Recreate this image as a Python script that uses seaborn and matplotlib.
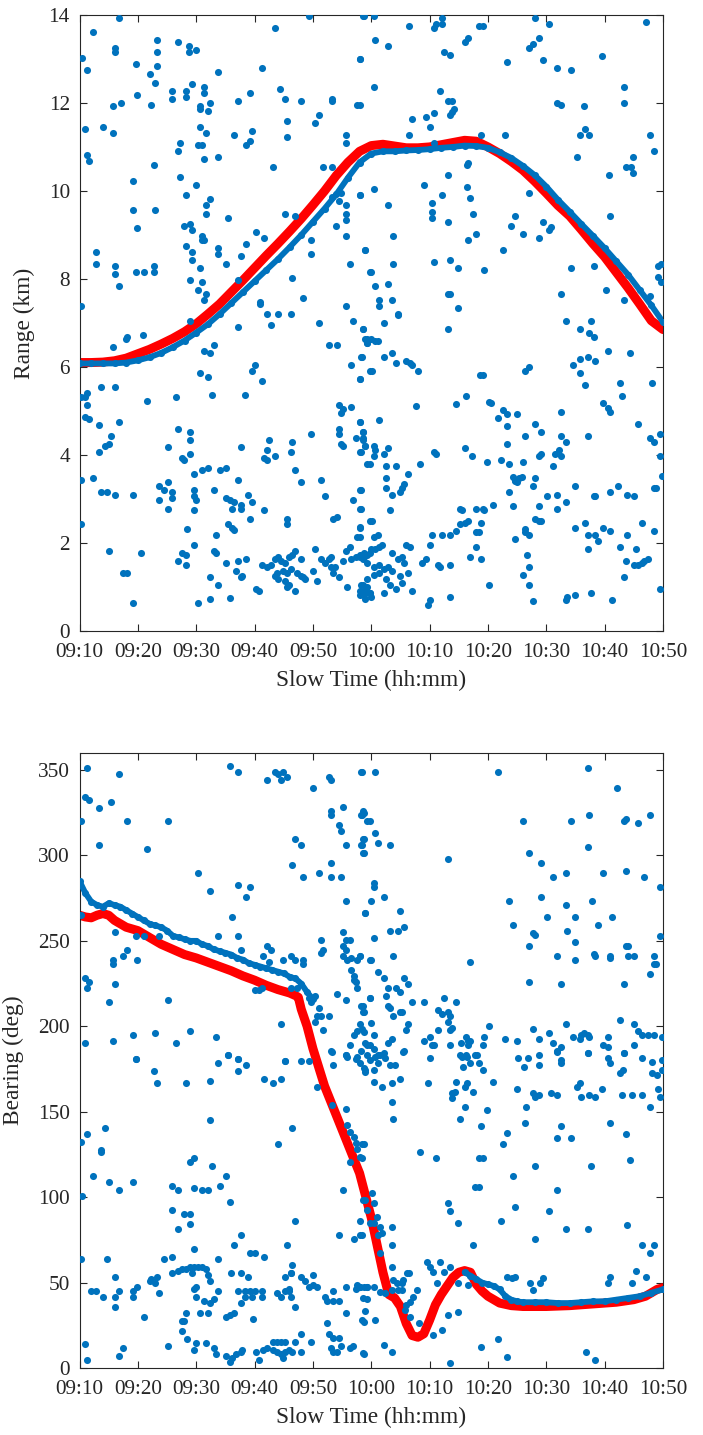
import matplotlib
matplotlib.use("Agg")
import matplotlib.pyplot as plt
import seaborn as sns

BLUE = "#0072BD"
RED = "#FF0000"
INK = "#262626"
SERIF = ["Liberation Serif", "DejaVu Serif"]

# x axis is minutes after 09:10
tick_minutes = list(range(0, 101, 10))
tick_labels = ["09:10", "09:20", "09:30", "09:40", "09:50", "10:00",
               "10:10", "10:20", "10:30", "10:40", "10:50"]

# ---- range panel ----
range_track_t = list(range(0, 101, 2))
range_track = [6.08, 6.08, 6.08, 6.08, 6.1, 6.15, 6.22, 6.32, 6.45, 6.6,
               6.78, 6.97, 7.2, 7.45, 7.7, 7.95, 8.2, 8.45, 8.72, 9.0,
               9.3, 9.6, 9.92, 10.3, 10.65, 10.85, 10.9, 10.9, 10.92, 10.93,
               10.95, 10.98, 11.0, 11.03, 11.02, 10.98, 10.88, 10.75, 10.57, 10.36,
               10.1, 9.8, 9.53, 9.25, 8.98, 8.7, 8.4, 8.1, 7.75, 7.4, 7.02]
range_fit = [6.1, 6.1, 6.11, 6.14, 6.2, 6.3, 6.4, 6.52, 6.65, 6.8,
             6.98, 7.2, 7.43, 7.7, 7.97, 8.25, 8.53, 8.8, 9.08, 9.37,
             9.68, 10.0, 10.35, 10.65, 10.9, 11.03, 11.06, 11.02, 10.98, 10.98,
             11.0, 11.05, 11.1, 11.15, 11.13, 11.0, 10.85, 10.67, 10.47, 10.22,
             9.95, 9.67, 9.43, 9.12, 8.8, 8.5, 8.15, 7.8, 7.43, 7.05, 6.85]
range_clutter = [
    (6.8, 13.92), (2.3, 13.61), (13.3, 13.42), (6.1, 13.24), (6.1, 13.15), (13.3, 13.15),
    (16.8, 13.38), (18.8, 13.3), (18.8, 13.15), (20.0, 13.2), (0.5, 13.01), (1.2, 12.74),
    (9.6, 12.88), (13.3, 12.83), (12.0, 12.65), (13.0, 12.46), (23.8, 12.7), (31.3, 12.79),
    (33.5, 13.7), (39.3, 13.98), (48.7, 13.98), (48.0, 13.0), (19.2, 12.42), (21.3, 12.37),
    (21.3, 12.23), (15.8, 12.28), (15.8, 12.1), (18.2, 12.28), (18.2, 12.14), (9.9, 12.19),
    (29.3, 12.23), (34.4, 12.32), (35.2, 12.1), (37.9, 12.05), (43.2, 12.1), (43.2, 12.05),
    (27.2, 12.05), (47.6, 11.96), (7.1, 12.0), (5.7, 11.92), (12.3, 11.96), (22.4, 12.0),
    (20.7, 11.92), (20.7, 11.87), (22.0, 11.82), (41.0, 11.73), (40.3, 11.54), (35.5, 11.59),
    (0.9, 11.41), (4.0, 11.45), (5.7, 11.32), (20.7, 11.45), (21.7, 11.32), (26.5, 11.27),
    (29.6, 11.36), (29.3, 11.14), (28.6, 11.05), (35.5, 11.23), (45.6, 11.27), (45.6, 11.09),
    (17.2, 11.09), (16.8, 10.91), (20.3, 11.05), (21.0, 11.05), (1.2, 10.82), (1.6, 10.67),
    (21.3, 10.72), (23.8, 10.76), (12.7, 10.58), (33.1, 10.54), (41.8, 10.54), (43.2, 10.54),
    (9.2, 10.22), (17.2, 10.31), (20.0, 10.13), (18.2, 9.9), (22.4, 9.81), (21.7, 9.67),
    (21.7, 9.48), (9.2, 9.57), (13.0, 9.57), (9.9, 9.16), (25.5, 9.39), (35.2, 9.48),
    (36.9, 9.44), (43.2, 9.86), (44.5, 9.76), (44.9, 9.95), (45.6, 9.67), (45.6, 9.48),
    (45.6, 9.35), (48.0, 9.9), (43.9, 9.21), (45.6, 8.98), (49.0, 8.66), (46.3, 8.34),
    (49.7, 8.16), (17.9, 9.2), (18.9, 9.25), (19.2, 9.11), (21.0, 8.98), (21.0, 8.89),
    (21.4, 8.89), (18.2, 8.75), (19.2, 8.61), (19.2, 8.43), (23.7, 8.7), (23.7, 8.57),
    (25.1, 8.34), (27.6, 8.52), (28.6, 8.8), (30.3, 9.07), (31.7, 8.93), (39.7, 8.89),
    (39.7, 8.57), (2.9, 8.61), (2.9, 8.34), (6.1, 8.3), (6.1, 8.11), (9.6, 8.16),
    (11.0, 8.16), (12.7, 8.3), (12.7, 8.16), (6.8, 7.84), (18.9, 7.98), (20.3, 7.75),
    (20.7, 8.25), (21.0, 7.93), (21.7, 7.66), (21.3, 7.52), (27.2, 7.98), (36.5, 8.02),
    (38.3, 7.57), (31.0, 7.48), (31.0, 7.43), (32.1, 7.2), (34.1, 7.2), (36.2, 7.2),
    (45.6, 7.39), (0.2, 7.39),
    (48.6, 13.98), (50.4, 13.98), (56.4, 13.75), (60.8, 13.7), (61.1, 13.8), (62.1, 13.8),
    (62.1, 13.93), (68.4, 13.75), (69.2, 13.75), (66.0, 13.38), (66.6, 13.47), (50.7, 13.42),
    (52.8, 13.29), (62.5, 13.15), (63.5, 13.1), (48.0, 13.0), (78.0, 13.93), (80.5, 13.8),
    (78.8, 13.47), (77.7, 13.33), (77.0, 13.24), (79.4, 12.97), (73.3, 12.92), (81.8, 12.79),
    (84.2, 12.74), (89.6, 13.06), (97.1, 13.84), (50.4, 12.37), (61.8, 12.28), (63.2, 12.05),
    (63.8, 12.05), (64.2, 11.87), (63.5, 11.73), (63.8, 11.8), (60.8, 11.78), (59.4, 11.69),
    (60.1, 11.45), (56.9, 11.64), (48.0, 11.96), (81.8, 12.0), (82.5, 11.96), (86.4, 11.92),
    (93.3, 12.37), (93.3, 12.0), (86.7, 11.41), (87.4, 11.27), (85.7, 11.27), (97.8, 11.27),
    (98.5, 10.91), (56.4, 11.27), (68.8, 11.27), (72.9, 11.27), (60.8, 11.09), (85.3, 10.77),
    (94.9, 10.77), (93.6, 10.54), (94.6, 10.54), (94.9, 10.4), (90.8, 10.36), (48.0, 10.63),
    (66.6, 10.63), (66.4, 10.58), (63.2, 10.36), (59.0, 10.13), (50.4, 10.04), (62.1, 9.9),
    (66.4, 10.08), (67.0, 9.85), (67.4, 9.48), (60.4, 9.72), (60.4, 9.53), (60.4, 9.39),
    (48.0, 9.9), (52.8, 9.67), (77.0, 9.95), (74.6, 9.44), (74.0, 9.21), (79.4, 9.3),
    (80.8, 9.17), (80.5, 9.11), (76.0, 9.02), (78.8, 8.93), (90.9, 9.44), (63.2, 9.3),
    (53.8, 8.98), (68.0, 9.02), (66.6, 8.89), (49.0, 8.66), (72.6, 8.66), (53.8, 8.34),
    (60.8, 8.39), (63.5, 8.43), (64.9, 8.25), (69.4, 8.2), (50.0, 8.16), (50.7, 7.84),
    (52.8, 7.89), (84.2, 8.25), (88.1, 8.3), (63.2, 7.66), (63.5, 7.66), (82.5, 7.66),
    (90.2, 7.75), (51.4, 7.52), (51.4, 7.39), (53.5, 7.52), (64.9, 7.34), (54.6, 7.2),
    (93.3, 7.52), (97.8, 7.61), (99.2, 8.3), (99.6, 8.35), (99.2, 8.05), (99.6, 7.94),
    (27.2, 6.91), (32.8, 6.95), (41.0, 7.0), (46.9, 7.05), (48.6, 6.86), (18.9, 7.05),
    (8.2, 6.68), (7.9, 6.64), (10.9, 6.73), (5.7, 6.45), (21.3, 6.36), (22.4, 6.32),
    (23.1, 6.5), (42.8, 6.5), (44.1, 6.5), (49.0, 6.64), (49.3, 6.55), (48.3, 6.23),
    (46.6, 6.05), (48.0, 5.72), (49.7, 5.91), (30.0, 6.05), (29.6, 5.91), (31.3, 5.67),
    (20.7, 5.86), (22.0, 5.77), (22.7, 5.36), (28.3, 5.36), (0.2, 5.31), (0.9, 5.31),
    (1.2, 5.4), (1.2, 5.13), (3.6, 5.54), (6.1, 5.54), (11.6, 5.22), (16.5, 5.31),
    (0.9, 4.86), (1.6, 4.81), (3.3, 4.67), (6.8, 4.76), (5.4, 4.44), (5.1, 4.26),
    (4.3, 4.21), (3.3, 4.07), (16.8, 4.58), (18.9, 4.53), (18.9, 4.35), (15.1, 4.17),
    (17.5, 3.93), (17.9, 3.89), (18.9, 4.02), (19.6, 3.57), (21.0, 3.66), (22.0, 3.7),
    (24.1, 3.66), (25.1, 3.7), (27.6, 4.17), (27.2, 3.43), (32.4, 4.35), (32.1, 4.11),
    (31.7, 3.93), (32.1, 3.89), (33.5, 3.98), (36.5, 4.3), (36.2, 4.07), (36.9, 3.66),
    (37.9, 3.39), (39.7, 4.48), (44.5, 4.58), (44.5, 4.48), (44.9, 4.26), (45.2, 4.21),
    (47.3, 4.39), (48.6, 4.39), (49.0, 4.21), (48.3, 4.07), (48.0, 4.76), (48.6, 4.53),
    (49.3, 3.8), (44.5, 5.13), (45.2, 5.04), (46.6, 5.08), (44.9, 4.95), (0.2, 3.43),
    (2.3, 3.48), (3.6, 3.15), (4.7, 3.15), (6.1, 3.1), (9.2, 3.1), (13.7, 3.29),
    (14.4, 3.2), (15.1, 3.38), (15.8, 3.15), (15.8, 3.02), (13.7, 2.97), (15.1, 2.78),
    (19.6, 3.2), (19.6, 3.06), (20.0, 2.97), (19.6, 2.74), (23.1, 3.2), (25.1, 3.02),
    (25.8, 2.97), (26.5, 2.92), (26.1, 2.78), (27.6, 2.87), (27.6, 2.78), (28.9, 3.1),
    (29.6, 2.92), (31.7, 2.74), (29.3, 2.55), (35.5, 2.55), (35.5, 2.44), (41.4, 3.43),
    (42.1, 3.06), (43.5, 2.55), (44.2, 2.6), (46.9, 2.97), (48.3, 3.2), (48.3, 2.78),
    (49.7, 2.51), (48.0, 2.35), (47.6, 2.14), (25.5, 2.44), (26.1, 2.35), (26.5, 2.3),
    (18.5, 2.32), (23.4, 2.18), (0.2, 2.42), (19.6, 1.95), (5.1, 1.82), (10.6, 1.77),
    (16.8, 1.59), (17.5, 1.77), (18.2, 1.73), (18.2, 1.5), (23.1, 1.82), (23.4, 1.77),
    (25.1, 1.55), (27.2, 1.59), (28.6, 1.64), (26.8, 1.36), (27.6, 1.22), (27.9, 1.26),
    (22.4, 1.22), (23.7, 1.04), (25.8, 0.76), (22.4, 0.72), (20.3, 0.63), (9.2, 0.63),
    (7.5, 1.31), (8.2, 1.31), (30.3, 0.95), (30.7, 0.9),
    (31.3, 1.5), (32.1, 1.45), (32.8, 1.5), (33.5, 1.64), (34.1, 1.68), (34.5, 1.59),
    (35.2, 1.55), (35.9, 1.68), (36.5, 1.73), (36.9, 1.82), (37.9, 1.64), (33.8, 1.31),
    (33.5, 1.26), (34.1, 1.17), (34.8, 1.36), (35.5, 1.31), (36.2, 1.4), (37.2, 1.31),
    (37.9, 1.26), (38.3, 1.22), (38.6, 1.17), (35.9, 1.04), (35.5, 0.99), (36.9, 0.9),
    (35.2, 1.13), (40.4, 1.86), (40.7, 1.13), (40.0, 1.36), (41.4, 1.64), (42.1, 1.55),
    (42.8, 1.64), (43.1, 1.68), (43.1, 1.45), (43.8, 1.45), (43.5, 1.31), (44.5, 1.22),
    (45.2, 1.59), (45.6, 1.82), (46.3, 1.91), (46.6, 1.64), (47.3, 1.68), (48.0, 1.73),
    (48.7, 1.68), (48.7, 1.77), (49.7, 1.77), (49.3, 1.55), (45.9, 0.99), (48.0, 0.9),
    (48.7, 0.81), (49.3, 0.99), (49.0, 0.72), (49.7, 0.86), (48.3, 1.04),
    (54.5, 7.18), (52.1, 7.0), (48.6, 6.86), (63.2, 6.86), (49.2, 6.64), (49.9, 6.64),
    (50.6, 6.59), (51.1, 6.59), (49.2, 6.55), (48.4, 6.22), (52.1, 6.22), (53.5, 6.31),
    (54.2, 6.08), (56.0, 6.13), (56.6, 6.08), (57.0, 6.04), (58.0, 5.9), (50.1, 5.9),
    (48.1, 5.72), (57.7, 5.12), (64.6, 5.16), (66.3, 5.35), (68.6, 5.81), (69.1, 5.81),
    (76.4, 5.9), (77.0, 5.99), (70.1, 5.21), (70.5, 5.17), (72.5, 5.03), (73.2, 4.94),
    (74.9, 4.94), (71.8, 4.84), (73.2, 4.66), (78.1, 4.7), (79.1, 4.52), (76.4, 4.43),
    (82.5, 4.98), (83.3, 7.05), (85.7, 6.86), (87.4, 6.77), (88.1, 6.68), (87.7, 7.05),
    (90.5, 6.36), (94.3, 6.31), (84.6, 6.04), (85.7, 6.17), (87.1, 6.22), (88.4, 6.13),
    (85.7, 5.86), (86.7, 5.58), (92.6, 5.63), (92.9, 5.35), (98.1, 5.63), (89.8, 5.17),
    (90.5, 5.07), (90.9, 4.98), (95.7, 4.7), (82.5, 4.43), (83.3, 4.3), (87.1, 4.43),
    (97.8, 4.39), (98.5, 4.3), (99.5, 4.48), (48.1, 4.76), (51.4, 4.8), (48.6, 4.52),
    (48.6, 4.34), (49.0, 4.2), (48.1, 4.07), (50.4, 4.2), (50.7, 4.11), (50.4, 3.98),
    (52.1, 4.02), (52.8, 4.16), (49.7, 3.8), (52.5, 3.75), (54.2, 3.75), (52.5, 3.48),
    (52.5, 3.24), (53.5, 3.1), (54.9, 3.15), (55.3, 3.24), (55.6, 3.33), (56.3, 3.57),
    (58.4, 3.8), (60.8, 4.07), (61.1, 4.02), (66.0, 4.16), (67.3, 3.98), (69.8, 3.84),
    (72.2, 3.89), (73.6, 3.8), (73.2, 4.25), (76.0, 3.84), (74.3, 3.5), (74.7, 3.43),
    (75.3, 3.48), (75.9, 3.5), (75.0, 3.38), (74.6, 3.4), (78.1, 3.48), (77.7, 3.29),
    (78.8, 3.98), (79.1, 4.02), (81.5, 4.02), (82.2, 4.11), (82.5, 3.98), (81.2, 3.75),
    (48.1, 3.2), (48.1, 2.78), (53.2, 2.74), (73.6, 3.15), (74.3, 2.83), (80.1, 3.06),
    (81.8, 3.1), (83.3, 2.92), (81.8, 2.78), (78.8, 2.83), (85.0, 3.29), (88.1, 3.06),
    (88.4, 3.06), (90.9, 3.15), (92.3, 3.29), (93.9, 3.1), (95.0, 3.06), (98.5, 3.24),
    (98.8, 3.24), (99.5, 3.98), (99.8, 3.52), (65.2, 2.78), (65.6, 2.74), (68.0, 2.78),
    (69.1, 2.78), (69.4, 2.74), (70.8, 2.87), (68.8, 2.46), (68.0, 2.24), (68.4, 2.24),
    (66.6, 2.51), (66.0, 2.46), (65.2, 2.42), (64.6, 2.28), (63.5, 2.18), (62.1, 2.18),
    (60.4, 2.18), (60.1, 1.95), (50.1, 2.51), (48.1, 2.37), (48.1, 2.14), (50.4, 2.14),
    (51.1, 2.18), (51.8, 1.95), (51.4, 1.91), (50.7, 1.86), (50.0, 1.86), (49.3, 1.73),
    (48.6, 1.64), (48.1, 1.68), (53.5, 1.77), (56.0, 1.95), (56.6, 1.91), (55.3, 1.68),
    (54.6, 1.64), (55.6, 1.55), (56.3, 1.31), (54.9, 1.26), (50.4, 1.45), (51.4, 1.49),
    (52.1, 1.4), (52.8, 1.45), (53.5, 1.36), (51.4, 1.31), (50.4, 1.27), (49.3, 1.17),
    (48.6, 1.04), (49.0, 0.9), (49.7, 0.86), (48.1, 0.81), (52.5, 1.17), (53.2, 1.04),
    (54.2, 0.95), (55.3, 1.08), (52.1, 0.86), (57.0, 0.9), (50.0, 0.77), (58.7, 1.55),
    (59.4, 1.64), (61.4, 1.49), (61.8, 1.45), (63.5, 1.49), (67.0, 1.68), (68.8, 1.64),
    (68.0, 1.91), (70.1, 1.04), (59.7, 0.58), (60.1, 0.71), (63.5, 0.77), (74.6, 2.09),
    (76.4, 2.32), (76.4, 2.24), (77.0, 2.18), (78.1, 2.55), (78.8, 2.51), (79.1, 2.51),
    (76.7, 1.73), (77.0, 1.45), (76.0, 1.27), (77.0, 1.04), (77.7, 0.67), (83.3, 0.71),
    (83.6, 0.77), (85.0, 0.81), (87.7, 0.86), (91.2, 0.71), (85.0, 2.33), (86.7, 2.46),
    (87.1, 2.18), (88.4, 2.18), (88.8, 2.05), (89.8, 2.33), (90.9, 2.28), (87.1, 1.86),
    (92.6, 1.91), (93.9, 2.18), (95.3, 1.86), (96.4, 2.46), (98.5, 2.28), (93.6, 1.59),
    (95.0, 1.49), (95.7, 1.49), (96.4, 1.55), (96.7, 1.59), (97.4, 1.64), (93.3, 1.22),
    (99.5, 0.95),
]

# ---- bearing panel ----
bearing_head_t = list(range(0, 41))
bearing_head = [285, 278, 273, 271, 270, 272, 271, 270, 268, 266,
                264, 262, 260, 259, 258, 256, 253, 252, 251, 250,
                250, 248, 247, 245, 244, 243, 242, 240, 239, 237,
                236, 235, 234, 233, 232, 231, 229, 228, 225, 220, 216]
bearing_tail_t = [66, 67, 68, 69, 70, 71, 72, 73, 74, 75, 76, 78, 80, 82, 84, 86,
                  88, 90, 92, 94, 96, 98, 100]
bearing_tail = [56, 54, 52, 50, 49, 48, 46, 42, 40, 39, 38.5, 38.5, 38.5, 38, 38,
                38.5, 39, 39, 40, 41, 42, 44, 46]
bearing_fit_t = [0, 1, 2, 3, 4, 5, 6, 7, 8, 10, 12, 14, 16, 18, 20, 22, 24, 26, 28,
                 30, 32, 34, 36, 37, 37.5, 38, 39, 40, 42, 44, 46, 48, 50, 51, 52,
                 53, 54, 55, 56, 57, 58, 59, 60, 61, 62, 63, 64, 65, 66, 67, 68,
                 69, 70, 72, 74, 76, 80, 84, 88, 92, 95, 97, 98, 99, 100]
bearing_fit = [265, 264, 263.5, 265, 266, 265, 262, 260, 258, 256, 252, 248, 245,
               242, 240, 237.5, 235, 232.5, 229.5, 227, 224, 221.5, 219.5, 218, 217,
               210, 200, 187, 165, 148, 131, 114, 88, 72, 56, 43, 41, 36, 26, 19,
               18, 20, 28, 37, 43, 48, 53, 56, 57, 56, 49, 45, 42, 38, 36.5, 36,
               36, 36.5, 37.5, 38.5, 40, 42, 44, 46, 47]
bearing_clutter = [
    (1.2, 351), (6.8, 347.4), (25.8, 352.3), (27.2, 348.6), (32.1, 343.9), (33.5, 348.6),
    (34.1, 347.4), (34.5, 343.9), (34.8, 348.6), (35.5, 346.2), (40.0, 339.2), (42.8, 346.2),
    (43.1, 343.9), (48.3, 348.6), (0.9, 334.5), (1.6, 332.2), (5.4, 331), (3.3, 327.5),
    (0.2, 320.3), (8.2, 320.3), (15.1, 320.3), (3.3, 306.3), (11.6, 303.9), (43.1, 326.2),
    (43.1, 323.8), (45.2, 328.5), (44.5, 318), (44.9, 314.4), (45.6, 306.3), (48.7, 325),
    (48.3, 323.8), (49.3, 320.3), (48.7, 309.8), (48.3, 306.3), (48.7, 301.6), (36.9, 309.8),
    (37.9, 306.3), (36.5, 294.4), (43.1, 295.5), (41.1, 289.7), (43.1, 287.3), (44.9, 287.3),
    (38.3, 287.3), (20.3, 289.7), (22.4, 279), (27.2, 282.7), (29.3, 281.5), (28.6, 275.4),
    (45.6, 273.1), (49.0, 266.1), (26.1, 263.7), (0.2, 265), (6.1, 255.4), (9.6, 253),
    (11.0, 253), (13.7, 253), (23.7, 253), (27.2, 253), (27.6, 244.8), (8.2, 244.8),
    (7.5, 241.3), (5.7, 239), (5.7, 236.6), (9.9, 239), (32.1, 247.2), (32.8, 244.8),
    (31.5, 241.3), (32.4, 237.8), (34.8, 239), (36.2, 241.3), (36.9, 239), (38.3, 239),
    (38.3, 236.6), (41.4, 250.7), (41.7, 244.8), (41.4, 243.1), (45.2, 255.4), (45.6, 250.7),
    (46.3, 250.7), (45.2, 247.2), (45.6, 244.8), (45.2, 241.3), (45.9, 239), (46.6, 240.1),
    (47.6, 239), (48.0, 241.3), (46.6, 233.1), (47.0, 229.6), (47.3, 226.1), (47.6, 222.6),
    (47.0, 227.3), (49.7, 238.6), (0.9, 228.2), (1.6, 225.9), (1.2, 222.4), (6.1, 224.7),
    (5.1, 214), (15.1, 215.2), (30.0, 221.2), (30.7, 221.2), (31.3, 222.4), (36.2, 222.4),
    (37.2, 222.4), (39.3, 216.5), (39.6, 214.2), (40.3, 217.7), (41.1, 210.5), (40.7, 205.8),
    (41.4, 205.8), (40.4, 202.3), (41.7, 197.6), (42.8, 205.8), (44.1, 218.7), (45.6, 215.2),
    (43.1, 185.7), (48.3, 211.7), (48.7, 208.1), (48.0, 201.1), (48.7, 196.4), (49.7, 216.3),
    (34.5, 201.1), (0.9, 190.4), (5.7, 191.6), (9.2, 195), (13.0, 196.2), (16.5, 190.4),
    (18.9, 197.4), (23.4, 193.9), (9.6, 181), (25.5, 183.4), (27.2, 181), (35.2, 179.9),
    (39.3, 179.9), (46.3, 189.2), (47.0, 195), (47.6, 197.4), (49.3, 189.2), (48.3, 185.7),
    (45.6, 183.4), (47.3, 181),
    (48.4, 348.6), (50.7, 348.6), (71.8, 348.6), (87.1, 350.9), (92.2, 339.2), (48.6, 326.2),
    (48.4, 323.8), (49.7, 320.3), (50.7, 313.3), (51.1, 307.4), (53.2, 306.1), (48.6, 309.8),
    (48.4, 306.1), (48.6, 301.4), (63.2, 297.9), (76.0, 320.3), (84.3, 320.3), (87.4, 323.8),
    (93.3, 320.3), (93.7, 321.5), (95.7, 319.1), (97.8, 323.8), (87.1, 304.9), (77.0, 301.4),
    (79.1, 295.5), (81.2, 287.3), (83.3, 289.7), (89.8, 289.7), (93.6, 290.8), (96.8, 287.3),
    (99.5, 281.3), (50.4, 283.6), (50.4, 281.3), (50.0, 273.1), (52.1, 275.4), (49.0, 266.1),
    (54.9, 267.2), (73.6, 273.1), (79.1, 275.4), (83.3, 270.8), (87.8, 273.1), (80.1, 263.7),
    (85.0, 263.7), (91.2, 263.7), (74.3, 259.1), (53.2, 255.5), (54.6, 255.5), (55.6, 257.9),
    (50.4, 251.8), (77.7, 254.4), (78.1, 253.2), (83.6, 255.5), (88.8, 259.1), (77.0, 247.2),
    (85.0, 249.5), (93.7, 247.2), (94.0, 247.2), (99.5, 253), (48.1, 241.3), (50.0, 238.8),
    (53.8, 241.3), (67.0, 237.8), (81.9, 241.3), (85.0, 238.8), (88.1, 242.5), (88.4, 241.3),
    (90.9, 241.3), (90.9, 240.1), (94.0, 241.3), (95.0, 241.3), (98.5, 241.3), (98.5, 236.4),
    (98.8, 236.4), (97.8, 230.6), (77.0, 225.9), (82.6, 224.7), (93.3, 224.7), (51.1, 231.7),
    (52.1, 228.2), (52.8, 222.4), (52.5, 217.7), (54.2, 222.4), (54.9, 220), (55.6, 228.2),
    (56.3, 224.7), (49.7, 216.3), (48.6, 211.7), (48.6, 208.1), (50.0, 201.7), (50.4, 195),
    (48.4, 198.2), (52.8, 211.7), (53.2, 210.5), (53.8, 205.8), (54.9, 208.1), (55.3, 208.1),
    (56.3, 201.1), (56.0, 197.6), (56.9, 214), (59.1, 214), (62.5, 216.3), (64.6, 214),
    (61.4, 209.3), (62.1, 207), (63.2, 208.1), (63.5, 205.8), (63.2, 202.3), (63.5, 197.6),
    (63.9, 198.8), (61.4, 197.6), (70.1, 200), (59.1, 191.6), (60.1, 193.9), (60.4, 189.2),
    (60.8, 189.2), (63.5, 189.2), (65.3, 190.4), (66.3, 193.9), (66.6, 191.6), (66.6, 189.2),
    (67.0, 191.6), (69.1, 189.2), (69.4, 193.9), (68.1, 183.4), (66.3, 183.4), (65.6, 182.2),
    (72.9, 192.7), (75.0, 191.6), (77.7, 198.6), (78.8, 192.7), (80.5, 196.3), (81.2, 190.4),
    (81.8, 185.7), (82.6, 188.1), (83.3, 201.1), (84.6, 193.9), (85.7, 192.7), (86.0, 195),
    (86.4, 196.3), (87.1, 195), (87.4, 193.9), (89.8, 189.2), (90.5, 193.9), (90.5, 188.1),
    (87.1, 184.5), (92.6, 203.5), (95.0, 201.1), (95.7, 197.4), (96.4, 195), (97.4, 195),
    (98.5, 195), (99.8, 193.9), (95.0, 189.2), (93.3, 184.5), (49.0, 190.4), (49.7, 189.2),
    (50.4, 186.9), (51.1, 183.4), (52.1, 184.5), (52.8, 190.4), (53.5, 192.7), (55.6, 185.7),
    (49.2, 183.2), (49.8, 180.2), (50.6, 182.2), (51.2, 178.3), (51.5, 183.2), (52.4, 181.2),
    (53.2, 177.3), (54.1, 177.3), (50.4, 174.4), (48.9, 174.4), (55.5, 185.1), (60.1, 181.2),
    (65.2, 183.2), (66.4, 182.2), (67.8, 183.2), (65.8, 176.3), (66.9, 178.3), (68.4, 178.3),
    (69.2, 174.4), (75.2, 181.2), (76.1, 176.3), (76.9, 181.2), (78.8, 183.2), (78.8, 177.3),
    (82.5, 178.3), (82.5, 180.2), (81.9, 185.1), (87.1, 184.1), (90.6, 181.2), (90.9, 178.3),
    (93.3, 184.1), (96.4, 181.2), (98.2, 179.3), (99.8, 180.2), (98.2, 172.4), (98.9, 171.5),
    (99.8, 174.4), (92.6, 172.4), (93.2, 174.4), (50.4, 167.6), (51.8, 164.3), (53.5, 166.6),
    (54.9, 168.9), (53.5, 155.9), (53.8, 145.5), (59.7, 166.6), (64.6, 167.6), (66.4, 166.6),
    (66.1, 164.6), (63.8, 160.7), (64.4, 161.7), (63.8, 157.8), (67.4, 161.7), (66.0, 152.6),
    (65.2, 145.5), (69.8, 151), (70.8, 167.6), (68.8, 141.6), (74.9, 163.1), (76.5, 152.6),
    (76.4, 143.2), (77.7, 160.7), (78.1, 158.8), (78.8, 159.8), (80.8, 160.7), (81.9, 159.8),
    (85.7, 166.6), (85.3, 164.6), (86.0, 158.8), (87.4, 159.8), (88.4, 158.8), (89.6, 163.1),
    (92.9, 159.8), (94.7, 159.8), (96.4, 159.8), (97.8, 152.6), (99.2, 163.1), (99.5, 158.8),
    (73.2, 137.3), (72.5, 131.1), (82.5, 141.6), (81.9, 134.6), (84.3, 134.6), (90.9, 143.2),
    (93.6, 137), (94.4, 121.7), (87.7, 118.2), (78.1, 118.2), (74.3, 112.4), (81.9, 104.2),
    (80.5, 92.1), (74.6, 94.4), (72.2, 86.2), (83.3, 81.6), (87.1, 81.6), (93.9, 83.9),
    (78.1, 75.7), (96.4, 72.2), (97.8, 67.1), (98.5, 72.2), (95.4, 56.9), (97.1, 53),
    (94.7, 49.6), (90.5, 49.6), (90.9, 53), (58.4, 126.6), (61.1, 123.1), (68.5, 122.7),
    (69.1, 122.7), (67.8, 106.1), (68.4, 106.1), (63.2, 96.8), (63.5, 92.1), (64.9, 85.1),
    (67.4, 72.2), (48.4, 131.1), (48.4, 122.7), (50.1, 102.2), (50.4, 96.4), (50.9, 88.6),
    (50.4, 84.7), (51.5, 82.7), (51.2, 77.9), (51.5, 67.1), (53.5, 82.7), (53.5, 72),
    (48.6, 98.3), (49.2, 92.5), (48.1, 77.9), (51.8, 78.8), (49.8, 84.7), (53.5, 59.3),
    (53.8, 51.5), (54.4, 49.6), (55.5, 51.5), (56.4, 55.4), (57.8, 45.7), (59.5, 62.2),
    (60.1, 59.3), (60.6, 56.4), (61.8, 62.2), (62.4, 56.4), (63.5, 59.3), (61.2, 49.6),
    (64.9, 49.6), (66.6, 48.6), (73.2, 53.5), (74.1, 52.5), (74.6, 53.5), (77.8, 45.7),
    (78.9, 49.6), (79.5, 52.5), (77.2, 49.6), (48.6, 40.8), (48.4, 28.1), (50.6, 28.1),
    (48.6, 8.6), (52.1, 13.5), (53.5, 9.6), (56.6, 38.8), (55.8, 33.9), (56.6, 30),
    (58.1, 26.2), (60.6, 19.3), (62.1, 22.3), (63.2, 31), (64.9, 33), (63.5, 2.8),
    (68.8, 12.1), (71.8, 16.8), (73.2, 6.7), (86.8, 9.6), (88.4, 4.7), (56.0, 37),
    (57.2, 41.8), (48.1, 47.2), (49.2, 47.2), (50.4, 47.2), (51.5, 44.7), (52.4, 43.7),
    (53.5, 45.7), (54.6, 45.7), (55.2, 45.7), (55.2, 49.6), (56.1, 55.4), (47.5, 48.6),
    (48.0, 47.4), (48.7, 47.4), (49.3, 47.2),
    (9.6, 180.8), (12.7, 173.8), (13.3, 166.6), (18.2, 166.6), (22.4, 167.8), (23.7, 178.5),
    (25.5, 183.2), (27.2, 180.8), (28.6, 177.3), (27.2, 173.8), (31.7, 168.9), (33.1, 166.6),
    (34.5, 168.9), (35.2, 179.7), (37.9, 179.7), (40.7, 164.3), (43.2, 185.1), (43.5, 177.3),
    (45.6, 183.2), (45.9, 182.2), (47.6, 182.2), (48.0, 178.3), (48.7, 175.4), (49.0, 173.4),
    (22.4, 145.3), (36.5, 140.7), (34.1, 131.3), (0.2, 132.5), (1.2, 137.1), (4.3, 140.7),
    (3.6, 127.8), (3.6, 126.6), (18.9, 120.6), (19.6, 122.9), (22.7, 118.2), (2.3, 112.4),
    (5.1, 108.9), (6.8, 104.2), (9.2, 108.9), (15.8, 106.5), (16.8, 104.2), (19.6, 105.3),
    (21.0, 104.2), (22.0, 104.2), (24.1, 106.5), (25.1, 112.4), (0.5, 100.5), (25.8, 97),
    (15.8, 92.3), (17.9, 89.9), (18.9, 89.9), (18.9, 84.1), (16.8, 81.6), (36.9, 86.2),
    (27.6, 78), (26.5, 72.2), (35.5, 72.2), (29.3, 67.5), (30.0, 67.5), (31.7, 65.2),
    (23.7, 64), (19.6, 69.8), (0.2, 64), (4.7, 64), (14.4, 64), (15.8, 65.2), (36.5, 60.5),
    (36.2, 55.8), (6.1, 53.3), (6.1, 41.6), (6.1, 35.5), (4.0, 41.6), (6.8, 45.1), (1.9, 45.1),
    (2.9, 45.1), (9.2, 45.1), (9.2, 41.6), (9.9, 47.4), (12.0, 50.9), (12.3, 52.1), (13.3, 53.3),
    (13.0, 49.8), (13.7, 43.9), (15.8, 55.6), (16.8, 56.8), (17.5, 57.9), (18.2, 57.9),
    (18.9, 59.1), (19.6, 59.1), (20.3, 59.1), (21.0, 59.1), (21.7, 57.9), (22.0, 54.4),
    (22.4, 50.9), (19.2, 55.6), (20.0, 47.4), (19.6, 46.2), (20.0, 41.6), (21.3, 39.2),
    (22.4, 38), (23.1, 40.4), (23.7, 45.1), (25.9, 55.6), (27.6, 55.6), (28.9, 53.3),
    (27.2, 45.1), (28.3, 41.6), (28.3, 45.1), (29.3, 45.1), (30.0, 45.1), (31.3, 45.1),
    (31.3, 41.6), (29.6, 41.6), (27.6, 38), (33.8, 43.9), (34.5, 41.6), (35.2, 45.1),
    (35.9, 45.1), (36.2, 41.6), (35.9, 46.3), (35.2, 53.3), (36.2, 55.6), (37.9, 53.3),
    (38.6, 50.9), (39.3, 47.4), (40.0, 48.6), (40.7, 47.4), (40.0, 54.4), (36.9, 35.5),
    (11.0, 29.7), (18.2, 32), (17.5, 27.3), (17.9, 27.3), (17.5, 21.5), (18.5, 16.8),
    (20.0, 14.5), (19.6, 10.6), (21.7, 14.5), (23.1, 11.9), (23.4, 8.2), (20.7, 32),
    (22.0, 32), (25.1, 29.7), (25.8, 30.8), (26.5, 32), (29.7, 28.5), (15.1, 13.1),
    (0.9, 14.1), (1.2, 4.7), (7.5, 11.9), (6.8, 7), (25.1, 7), (25.8, 3.5), (26.1, 5.9),
    (26.8, 8.2), (27.6, 9.4), (27.9, 10.6), (30.3, 9.4), (30.7, 4.7), (31.4, 10.6),
    (32.1, 11.7), (33.1, 15.4), (33.8, 15.4), (34.5, 15.4), (35.2, 15.4), (33.1, 10.6),
    (33.8, 9.4), (34.5, 8.2), (35.2, 9.4), (35.9, 10.6), (36.5, 9.4), (34.8, 5.9),
    (37.9, 9.4), (37.9, 20.1), (36.9, 15.4), (39.6, 15.4), (42.1, 41.6), (42.4, 39.2),
    (43.5, 45.1), (43.5, 39.2), (44.5, 39.2), (45.6, 47.4), (45.6, 32), (42.4, 26.2),
    (42.8, 20.1), (43.5, 17.8), (44.5, 17.8), (43.1, 11.9), (43.5, 9.4), (44.1, 9.4),
    (44.9, 13.1), (46.3, 11.9), (46.9, 13.1), (48.7, 8.4), (48.7, 27.1), (49.0, 33.2),
    (49.3, 40.2), (47.3, 46.3), (43.2, 153.9), (45.6, 151.4), (45.9, 142), (46.3, 138.1),
    (47.0, 135), (47.3, 131.5), (47.6, 128.4), (48.0, 123.3), (46.3, 120.6), (48.7, 131.1),
    (45.2, 104.2), (49.0, 98.3), (48.0, 86.2), (44.5, 77.8), (47.0, 75.7), (48.4, 77.8),
]

sns.set_style("ticks")
plt.rcParams["font.family"] = SERIF
plt.rcParams["font.serif"] = SERIF
plt.rcParams["axes.edgecolor"] = INK
plt.rcParams["axes.linewidth"] = 0.8


def draw_panel(ax, clutter, tracks, fit_t, fit, ylim, yticks, ylabel):
    cx = [p[0] for p in clutter]
    cy = [p[1] for p in clutter]
    sns.lineplot(x=fit_t, y=fit, ax=ax, color=RED, linewidth=6.5,
                 sort=False, estimator=None, zorder=2)
    for tt, tv in tracks:
        sns.lineplot(x=tt, y=tv, ax=ax, color=BLUE, linewidth=4.2,
                     sort=False, estimator=None, zorder=3)
        sns.scatterplot(x=tt, y=tv, ax=ax, color=BLUE, s=26,
                        linewidth=0, zorder=3)
    sns.scatterplot(x=cx, y=cy, ax=ax, color=BLUE, s=26, linewidth=0, zorder=3)
    ax.set_xlim(0, 100)
    ax.set_ylim(*ylim)
    ax.set_xticks(tick_minutes)
    ax.set_xticklabels(tick_labels)
    ax.set_yticks(yticks)
    ax.tick_params(direction="in", top=True, right=True, length=5, width=0.8,
                   colors=INK, labelsize=15.3, labelcolor=INK)
    ax.tick_params(axis="x", pad=9)
    ax.tick_params(axis="y", pad=7)
    for lbl in ax.get_xticklabels() + ax.get_yticklabels():
        lbl.set_fontfamily(SERIF)
    for s in ax.spines.values():
        s.set_visible(True)
        s.set_color(INK)
    ax.set_xlabel("Slow Time (hh:mm)", fontsize=16.8, color=INK, labelpad=5,
                  family=SERIF)
    ax.set_ylabel(ylabel, fontsize=16.8, color=INK, labelpad=10, family=SERIF)


fig = plt.figure(figsize=(7.03, 14.35), dpi=100)
ax1 = fig.add_axes([0.1131, 0.5603, 0.830, 0.4293])
ax2 = fig.add_axes([0.1131, 0.0467, 0.830, 0.4286])

draw_panel(ax1, range_clutter, [(range_track_t, range_track)],
           range_track_t, range_fit, (0, 14), list(range(0, 15, 2)), "Range (km)")
draw_panel(ax2, bearing_clutter,
           [(bearing_head_t, bearing_head), (bearing_tail_t, bearing_tail)],
           bearing_fit_t, bearing_fit, (0, 360), list(range(0, 351, 50)), "Bearing (deg)")

fig.savefig("out.png", dpi=100)
